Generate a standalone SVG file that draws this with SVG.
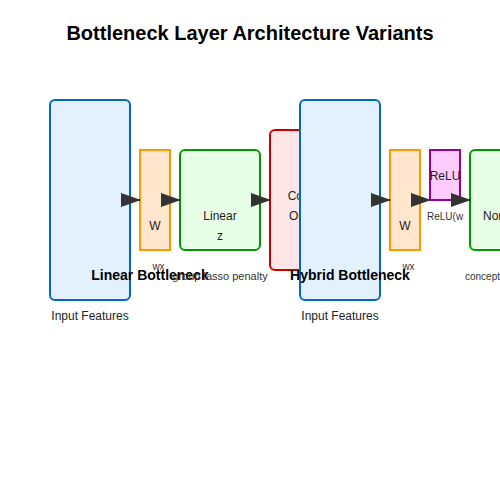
<svg xmlns="http://www.w3.org/2000/svg" width="500" height="500" viewBox="0 0 500 500">
<defs>
<style>
text{font-family:"Liberation Sans",Arial,sans-serif;fill:#222;}
.title{font-size:20px;font-weight:bold;text-anchor:middle;fill:#000;}
.sec{font-size:14px;font-weight:bold;text-anchor:middle;fill:#000;}
.lbl{font-size:12px;text-anchor:middle;}
.sm{font-size:10px;text-anchor:middle;fill:#333;}
.input{fill:#e3f0fd;stroke:#0066cc;stroke-width:2;}
.w{fill:#ffe6cc;stroke:#ff9900;stroke-width:2;}
.green{fill:#e6ffe6;stroke:#009900;stroke-width:2;}
.red{fill:#ffe6e6;stroke:#cc0000;stroke-width:2;}
.purple{fill:#ffccff;stroke:#990099;stroke-width:2;}
.conn{stroke:#333;stroke-width:2;marker-end:url(#arrow);}
</style>
<marker id="arrow" markerWidth="10" markerHeight="7" refX="9.5" refY="3.5" orient="auto">
<path d="M0,0 L10,3.5 L0,7 z" fill="#333"/>
</marker>
</defs>
<rect width="500" height="500" fill="#fff"/>
<text class="title" x="250" y="40">Bottleneck Layer Architecture Variants</text>

<g id="linear-input">
<rect class="input" x="50" y="100" width="80" height="200" rx="5"/>
<text class="lbl" x="90" y="320">Input Features</text>
</g>
<g id="linear-w">
<rect class="w" x="140" y="150" width="30" height="100"/>
<text class="lbl" x="155" y="230">W</text>
<text class="sm" x="158.5" y="270">wx</text>
</g>
<g id="linear-layer">
<rect class="green" x="180" y="150" width="80" height="100" rx="5"/>
<text class="lbl" x="220" y="220">Linear</text>
<text class="lbl" x="220" y="240">z</text>
</g>
<g id="linear-title">
<text class="sec" x="150" y="280">Linear Bottleneck</text>
</g>
<g id="linear-penalty">
<text class="sm" x="220" y="280" style="font-size:11px">group lasso penalty</text>
</g>
<g id="linear-output">
<rect class="red" x="270" y="130" width="80" height="140" rx="5"/>
<text class="lbl" x="310" y="200">Concept</text>
<text class="lbl" x="310" y="220">Outputs</text>
</g>

<g id="hybrid-input">
<rect class="input" x="300" y="100" width="80" height="200" rx="5"/>
<text class="lbl" x="340" y="320">Input Features</text>
</g>
<g id="hybrid-w">
<rect class="w" x="390" y="150" width="30" height="100"/>
<text class="lbl" x="405" y="230">W</text>
<text class="sm" x="408.5" y="270">wx</text>
</g>
<g id="hybrid-relu">
<rect class="purple" x="430" y="150" width="30" height="50"/>
<text class="lbl" x="445" y="180">ReLU</text>
<text class="sm" x="427" y="220" style="text-anchor:start">ReLU(w</text>
</g>
<g id="hybrid-norm">
<rect class="green" x="470" y="150" width="80" height="100" rx="5"/>
<text class="lbl" x="483" y="220" style="text-anchor:start">Normalize</text>
<text class="sm" x="465" y="280" style="text-anchor:start">concept activations</text>
</g>
<g id="hybrid-title">
<text class="sec" x="350" y="280">Hybrid Bottleneck</text>
</g>

<g id="connectors">
<line class="conn" x1="130" y1="200" x2="140" y2="200"/>
<line class="conn" x1="170" y1="200" x2="180" y2="200"/>
<line class="conn" x1="260" y1="200" x2="270" y2="200"/>
<line class="conn" x1="380" y1="200" x2="390" y2="200"/>
<line class="conn" x1="420" y1="200" x2="430" y2="200"/>
<line class="conn" x1="460" y1="200" x2="470" y2="200"/>
</g>
</svg>
